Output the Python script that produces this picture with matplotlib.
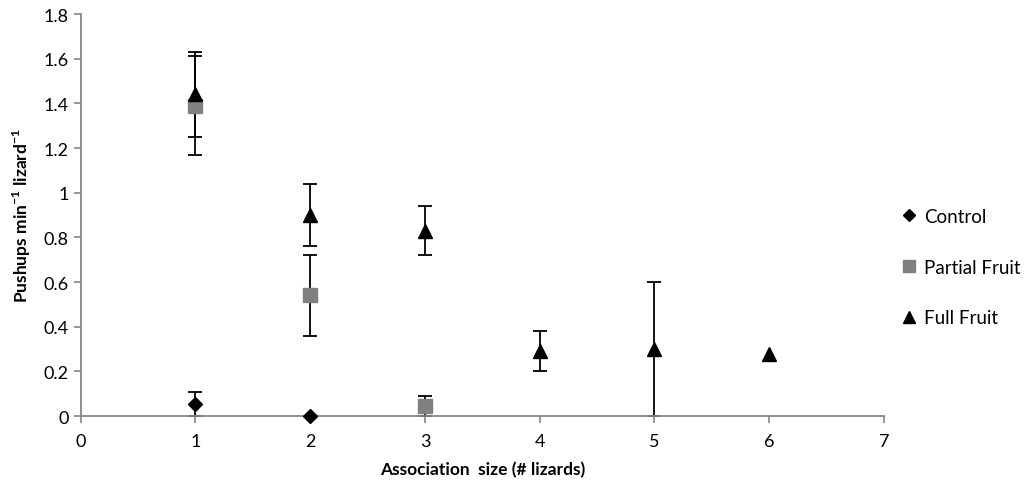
import matplotlib
matplotlib.use('Agg')
import matplotlib.pyplot as plt
import numpy as np

plt.rcParams['font.family'] = ['Lato', 'DejaVu Sans']
plt.rcParams['mathtext.fontset'] = 'custom'
plt.rcParams['mathtext.rm'] = 'Lato'
plt.rcParams['mathtext.bf'] = 'Lato:bold'

#%% Data
control_x = [1, 2]
control_y = [0.055, 0.0]
control_err = [0.055, 0.0]

partial_x = [1, 2, 3]
partial_y = [1.39, 0.54, 0.045]
partial_err = [0.22, 0.18, 0.045]

full_x = [1, 2, 3, 4, 5, 6]
full_y = [1.44, 0.90, 0.83, 0.29, 0.30, 0.28]
full_err = [0.19, 0.14, 0.11, 0.09, 0.30, 0.0]

x_ticks = [0, 1, 2, 3, 4, 5, 6, 7]
y_ticks = [0, 0.2, 0.4, 0.6, 0.8, 1, 1.2, 1.4, 1.6, 1.8]
y_ticklabels = ['0', '0.2', '0.4', '0.6', '0.8', '1', '1.2', '1.4', '1.6', '1.8']

#%% Plot
fig = plt.figure(figsize=(10.35, 4.85), dpi=100)
ax = fig.add_axes([0.078, 0.140, 0.776, 0.829])

err_kw = dict(fmt='none', ecolor='black', elinewidth=1.3, capsize=5, capthick=1.3, zorder=2)
for xs, ys, es in [(full_x, full_y, full_err), (partial_x, partial_y, partial_err),
                   (control_x, control_y, control_err)]:
    xs, ys, es = np.array(xs), np.array(ys), np.array(es)
    keep = es > 0  # points without error bars
    ax.errorbar(xs[keep], ys[keep], yerr=es[keep], **err_kw)

ax.plot(control_x, control_y, 'D', color='black', markersize=7, linestyle='none', label='Control', zorder=3, clip_on=False)
ax.plot(partial_x, partial_y, 's', color='#808080', markersize=10, linestyle='none', label='Partial Fruit', zorder=3, clip_on=False)
ax.plot(full_x, full_y, '^', color='black', markersize=10, linestyle='none', label='Full Fruit', zorder=4, clip_on=False)

ax.set_xlim(0, 7)
ax.set_ylim(0, 1.8)
ax.set_xticks(x_ticks)
ax.set_yticks(y_ticks)
ax.set_yticklabels(y_ticklabels)

for s in ['top', 'right']:
    ax.spines[s].set_visible(False)
for s in ['left', 'bottom']:
    ax.spines[s].set_color('#868686')
    ax.spines[s].set_linewidth(1.3)
    ax.spines[s].set_zorder(2.5)
ax.tick_params(axis='both', colors='#868686', labelcolor='black', labelsize=13, length=5, width=1.2, direction='out')
ax.tick_params(axis='x', pad=7)

ax.set_xlabel('Association  size (# lizards)', fontsize=12.5, fontweight='bold', labelpad=9)
ax.set_ylabel('Pushups min$^{\\bf{-1}}$ lizard$^{\\bf{-1}}$', fontsize=12.5, fontweight='bold', labelpad=8)

leg = ax.legend(loc='center left', bbox_to_anchor=(0.853, 0.447), bbox_transform=fig.transFigure,
                frameon=False, fontsize=13.5, handletextpad=0.3, labelspacing=1.8, markerscale=0.85,
                handlelength=1.0)

plt.savefig('out.png', dpi=100)
plt.close()
